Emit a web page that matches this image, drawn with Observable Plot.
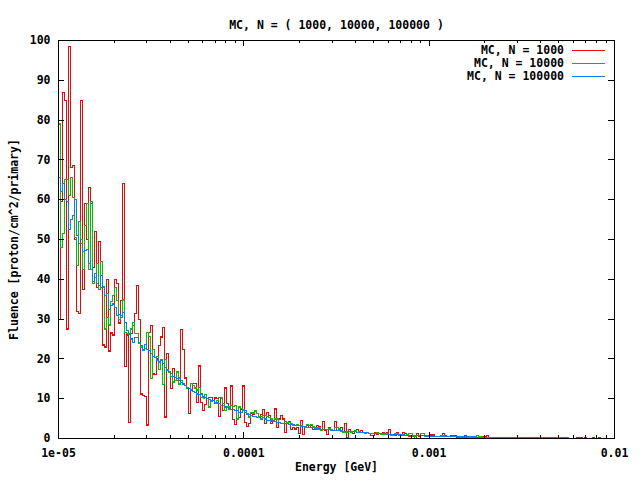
<!DOCTYPE html>
<html><head><meta charset="utf-8">
<script src="https://cdn.jsdelivr.net/npm/d3@7"></script>
<script src="https://cdn.jsdelivr.net/npm/@observablehq/plot@0.6"></script>
<style>body{margin:0;background:#fff} svg{display:block}</style>
</head><body><div id="chart"></div>
<script>
const title = "MC, N = ( 1000, 10000, 100000 )";
const xLabel = "Energy [GeV]";
const yLabel = "Fluence [proton/cm^2/primary]";
const seriesNames = ["MC, N = 1000", "MC, N = 10000", "MC, N = 100000"];
const seriesColors = ["#ff0000", "#00c000", "#0080ff"];
const eMin = 1e-5, eMax = 1e-2, nBins = 278;

// bin contents, bin i of nBins log-spaced bins over [eMin, eMax]
const red = [
 30,59.5,87,85,27.5,98.5,68,68.5,50,32,
 31.5,85,37.5,59,50,63,59,43,52,38,
 49.5,38,23.5,23,40,22,26.5,26,40,39,
 29,34.7,64,18,26,4,26.3,28.4,31.5,38.4,
 30,11.2,10.8,10.5,3.4,26.7,28.4,16.2,16,20,
 23.4,25.5,27.8,5.4,21.4,16.5,12.5,17.5,14.6,14.5,
 14.5,27.3,22.3,15.2,12.9,6.2,12.2,13.9,13.8,9.1,
 18.2,9,7,8.5,10,10.4,10.4,9.5,10.2,10.1,
 5.5,10.4,7,12.7,8.7,7.9,13.2,4.7,3.5,7,
 5.3,7.2,13.2,4.1,3,3.8,6.4,6,6.9,6.2,
 5.3,6.0,7.2,3.8,6.6,5.8,3.8,4.5,7.4,2.8,
 4.9,5.8,4.9,1.6,4.1,4.3,2.3,2.8,2.4,2.8,
 1.3,4.5,1.0,3.0,3.3,2.7,3.3,2.2,2.2,3.3,
 3.0,2.2,4.3,2.0,1.0,2.8,2.0,2.0,4.3,2.0,
 2.0,2.8,1.8,3.7,0.2,2.2,1.6,1.3,2.0,2.2,
 1.8,2.0,1.6,1.6,1.6,1.3,0.7,0.7,1.6,1.0,
 1.3,1.0,1.5,1.0,1.4,2.2,1.0,0.9,0.9,1.4,
 0.9,0.9,1.6,1.2,0.9,0.5,0.5,0.5,0.1,1.2,
 0.5,0.8,0.8,0.5,0.5,0.5,0.9,0.9,0.6,0.6,
 0.6,0.6,1.2,0.8,0.6,0.6,0.7,0.7,0.7,0.2,
 0.2,0.5,0.5,0.7,0.2,0.2,0,0,0,0,
 0,0,0.5,0.5,0.7,0,0,0.3,0.3,0,
 0,0,0.3,0,0,0,0,0,0,0,
 0,0,0,0,0,0,0,0,0,0,
 0,0,0,0,0,0,0,0,0,0,
 0,0,0,0,0,0,0,0,0,0.3,
 0.3,0.3,0,0.3,0,0,0,0.3,0,0,
 0.3
];
const green = [
 79,48,51.5,65,65,61,65.5,60.6,50.5,43.5,
 54.5,50,42.5,53.5,59,42.5,59.5,39,40.5,44,
 37.5,44.5,38,27.5,30.5,28.5,34.5,36,38,34.7,
 30,31,34.8,26.7,26.3,26.1,27.5,29.2,26.3,26.3,
 24.2,23,22.4,22.6,26.7,25.6,15,22.3,20.4,20.6,
 17.3,19.8,13.6,19.8,17.3,16.6,15.6,14.2,14.6,16.7,
 13.7,14.6,13.9,13.3,12.7,12.5,13.9,13.3,12.7,12.2,
 12.9,10.4,10.2,11,10,7.9,9.5,9.5,9.1,9.5,
 10.4,10.2,8.7,7,7.9,7.9,8.3,8,8.3,4.9,
 7.9,7.5,7,6.6,6.2,5.4,6.6,6.4,6.9,6.2,
 5.5,5.5,5.7,5.8,5.5,5.2,4.9,4.3,4.9,4.9,
 4.1,3.7,3.8,4.3,4.1,4.1,3.7,3.3,3.3,3.5,
 3.3,3.3,3.0,2.8,3.5,3.3,3.5,3.0,2.7,2.8,
 2.8,2.0,2.2,2.2,2.2,2.4,2.2,2.0,2.7,2.7,
 2.4,1.8,1.6,1.6,1.6,1.8,1.6,1.8,2.0,1.6,
 1.8,1.6,1.6,1.3,1.6,1.2,1.2,1.3,1.2,1.6,
 1.2,1.0,1.0,1.0,1.2,1.0,0.9,0.9,1.2,1.2,
 0.9,0.9,0.8,0.8,1.0,1.2,1.2,0.6,0.6,0.8,
 0.8,1.2,1.2,0.6,0.6,0.5,0.5,0.6,0.5,0.5,
 0.6,0.8,0.8,0.5,0.5,0.5,0.5,0.5,0.5,0.5,
 0.3,0.3,0.2,0.3,0.2,0.3,0.2,0.3,0.2,0.8,
 0.6,0.5,0.3,0.3,0.2,0.3,0.2,0.2,0.3,0.2,
 0.2,0.3,0.2,0.2,0.2,0.3,0.2,0.2,0.2,0.2,
 0.1,0.2,0.2,0.1,0.2,0.2,0.1,0.2,0.1,0.1,
 0.2,0.1,0.1,0.2,0.1,0.1,0.1,0.2,0.1,0.1,
 0.1,0.1,0.2,0.1,0.1,0.1
];
const blue = [
 65.5,62,64,60,59.5,52.5,55,56,60,51,
 49,49,47,47.3,47.5,44,42.5,39.5,41.5,39,
 38.5,41,38.2,36,36.5,32.5,33.5,33.8,33,31,
 31.2,30.5,31.7,29.2,27.1,26.3,25,24.2,25.3,25.3,
 23.8,23.4,22.1,23.6,22.3,22.1,21.3,20.6,20.4,19.6,
 19.2,19.6,18.8,17.9,17.2,16.9,16.4,15.6,15.3,15,
 15.2,14.1,13.7,13.3,12.9,12.5,12.2,11.9,11.6,11.2,
 11,11.2,10.5,10.4,10,9.7,9.4,9.5,8.9,8.9,
 8.7,8.3,8.3,7.9,7.7,7.4,7.2,7.2,7,7,
 6.6,6.6,7.2,7,6,6,5.8,5.5,5.5,5.3,
 5.2,4.9,5.2,4.9,4.5,4.5,4.4,4.2,4.2,4.1,
 4.0,3.8,3.8,3.7,3.7,3.5,3.5,3.5,3.3,3.3,
 3.3,3.0,3.0,3.0,2.8,2.8,2.7,2.7,2.5,2.4,
 2.4,2.3,2.2,2.2,2.2,2.2,2.0,2.0,2.0,2.0,
 2.0,2.0,1.8,1.8,1.8,1.7,1.7,1.7,1.7,1.6,
 1.6,1.5,1.5,1.5,1.5,1.3,1.3,1.3,1.3,1.2,
 1.2,1.2,1.2,1.2,1.1,1.1,1.0,1.0,1.0,0.95,
 0.9,0.9,0.9,0.85,0.85,0.8,0.8,0.8,0.75,0.75,
 0.7,0.7,0.7,0.65,0.65,0.6,0.6,0.6,0.6,0.55,
 0.55,0.55,0.5,0.5,0.5,0.5,0.45,0.45,0.45,0.45,
 0.4,0.4,0.4,0.4,0.4,0.38,0.38,0.36,0.36,0.35,
 0.35,0.34,0.34,0.33,0.33,0.32,0.32,0.31,0.31,0.3,
 0.3,0.29,0.29,0.28,0.28,0.27,0.27,0.26,0.26,0.25,
 0.25,0.24,0.24,0.23,0.23,0.22,0.22,0.21,0.21,0.2,
 0.2,0.2,0.19,0.19,0.18,0.18,0.17,0.17,0.17,0.16,
 0.16,0.16,0.15,0.15,0.15
];

const xTicks = [1e-5, 1e-4, 1e-3, 1e-2];
const xTickLabels = ["1e-05", "0.0001", "0.001", "0.01"];
const xMinorMult = [2, 3, 4, 5, 6, 7, 8, 9];
const yTicks = [0, 10, 20, 30, 40, 50, 60, 70, 80, 90, 100];

const edges = d3.range(nBins + 1).map(i => eMin * Math.pow(eMax / eMin, i / nBins));
function steps(vals, name) {
  const pts = vals.map((v, i) => ({e: edges[i], v, s: name}));
  pts.push({e: edges[vals.length], v: 0, s: name});
  return pts;
}
const seriesData = [red, green, blue].map((vals, k) => steps(vals, seriesNames[k]));
const xMinor = xTicks.slice(0, -1).flatMap(t => xMinorMult.map(m => t * m));

const FONT = "'DejaVu Sans Mono', monospace";

function decorations(index, scales, values, dims) {
  const {width: W, height: H, marginLeft: L, marginRight: R, marginTop: T, marginBottom: B} = dims;
  const x0 = L, x1 = W - R, y0 = T, y1 = H - B;
  const g = d3.create("svg:g").attr("stroke", "black").attr("stroke-width", 1).attr("shape-rendering", "crispEdges");
  const line = (xa, ya, xb, yb) => g.append("line").attr("x1", xa).attr("y1", ya).attr("x2", xb).attr("y2", yb);
  const MAJ = 6, MIN = 3;
  for (const t of xTicks) { const x = Math.round(scales.x(t)) + 0.5; line(x, y1, x, y1 - MAJ); line(x, y0, x, y0 + MAJ); }
  for (const t of xMinor) { const x = Math.round(scales.x(t)) + 0.5; line(x, y1, x, y1 - MIN); line(x, y0, x, y0 + MIN); }
  for (const t of yTicks) { const y = Math.round(scales.y(t)) + 0.5; line(x0, y, x0 + MAJ, y); line(x1, y, x1 - MAJ, y); }
  // legend
  const legX = x1 - 50, rows = [y0 + 9.5, y0 + 22.5, y0 + 35.7];
  seriesNames.forEach((n, k) => {
    g.append("text").attr("x", legX).attr("y", rows[k]).attr("dy", "0.35em")
      .attr("text-anchor", "end").attr("stroke", "none").attr("fill", "black")
      .attr("font-family", FONT).attr("font-weight", "bold").attr("font-size", "11.5px").text(n);
    g.append("line").attr("x1", x1 - 42).attr("x2", x1 - 9).attr("y1", Math.round(rows[k]) + 0.5).attr("y2", Math.round(rows[k]) + 0.5)
      .attr("stroke", seriesColors[k]);
  });
  return g.node();
}

const chart = Plot.plot({
  width: 640, height: 480,
  marginLeft: 58, marginRight: 26, marginTop: 40, marginBottom: 42,
  style: {fontFamily: FONT, fontSize: "11.5px", fontWeight: "bold", color: "black", background: "white"},
  x: {type: "log", domain: [eMin, eMax]},
  y: {domain: [0, 100]},
  marks: [
    ...seriesData.map((d, k) => Plot.line(d, {x: "e", y: "v", curve: "step-after", stroke: seriesColors[k], strokeWidth: 1.2, shapeRendering: "crispEdges"})),
    Plot.frame({stroke: "black", strokeWidth: 1, shapeRendering: "crispEdges"}),
    Plot.axisX(xTicks, {tickSize: 0, tickPadding: 10, tickFormat: d => xTickLabels[xTicks.indexOf(d)], label: null}),
    Plot.axisY(yTicks, {tickSize: 0, tickPadding: 8, label: null}),
    decorations,
    Plot.text([title], {frameAnchor: "top", dy: -20, text: d => d, fill: "black"}),
    Plot.text([xLabel], {frameAnchor: "bottom", dy: 32, text: d => d, fill: "black"}),
    Plot.text([yLabel], {frameAnchor: "left", dx: -44, rotate: -90, textAnchor: "middle", text: d => d, fill: "black"})
  ]
});
document.getElementById("chart").append(chart);
</script>
</body></html>
